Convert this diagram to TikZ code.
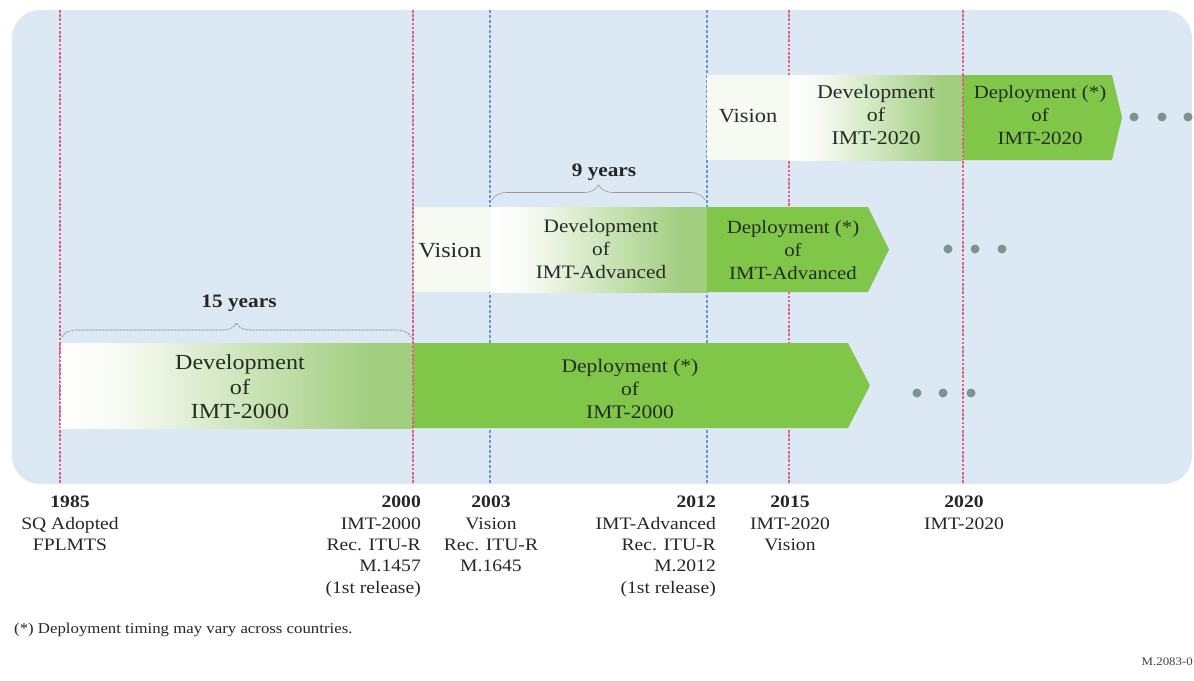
\documentclass[tikz,border=0pt]{standalone}
\usepackage{fontspec}
\setmainfont{Liberation Serif}[FakeStretch=1.12]
\usetikzlibrary{decorations.pathreplacing}
\definecolor{bgblue}{RGB}{221,232,245}
\definecolor{deploy}{RGB}{128,198,72}
\definecolor{devgreen}{RGB}{162,206,128}
\definecolor{devlight}{RGB}{247,250,242}
\definecolor{redline}{RGB}{226,96,128}
\definecolor{blueline}{RGB}{100,150,215}
\definecolor{dotcol}{RGB}{125,148,140}
\definecolor{txt}{RGB}{35,45,35}
\pgfdeclarehorizontalshading{devshade}{100bp}{color(0bp)=(white); color(25bp)=(white); color(34bp)=(devlight); color(69bp)=(devgreen); color(100bp)=(devgreen)}
\tikzset{
  redl/.style={draw=redline, line width=2.4pt, dash pattern=on 2.6pt off 1.6pt},
  bluel/.style={draw=blueline, line width=1.6pt, dash pattern=on 3pt off 2pt},
  devbox/.style={shading=devshade},
  visbox/.style={fill=devlight},
  depbox/.style={fill=deploy},
  boxtxt/.style={text=txt, align=center, inner sep=0pt},
  lbl/.style={text=black!85, inner sep=0pt, font=\fontsize{17.5}{21.3}\selectfont},
  yrs/.style={text=black!85, inner sep=0pt, font=\fontsize{19}{21}\selectfont\bfseries},
  bracel/.style={decorate, draw=black!55, line width=0.6pt},
  dotc/.style={fill=dotcol, draw=none},
}
\begin{document}
\begin{tikzpicture}[x=1pt,y=-1pt]
\useasboundingbox (0,0) rectangle (1194,680);
% background
\fill[bgblue, rounded corners=28pt] (12,10) rectangle (1192,484);
% time lines
\draw[redl] (60,10) -- (60,484);
\draw[redl] (413,10) -- (413,484);
\draw[bluel] (490,10) -- (490,484);
\draw[bluel] (707,10) -- (707,484);
\draw[redl] (789,10) -- (789,484);
\draw[redl] (963,10) -- (963,484);
% row 1
\path[devbox] (60,343) rectangle (413,428);
\path[depbox] (413,343) -- (848,343) -- (870,385.5) -- (848,428) -- (413,428) -- cycle;
% row 2
\path[visbox] (413,207) rectangle (490,292);
\path[devbox] (490,207) rectangle (707,292);
\path[depbox] (707,207) -- (868,207) -- (889,249.5) -- (868,292) -- (707,292) -- cycle;
% row 3
\path[visbox] (707,75) rectangle (790,160);
\path[devbox] (789,75) rectangle (963,160);
\path[depbox] (963,75) -- (1112,75) -- (1122,117.5) -- (1112,160) -- (963,160) -- cycle;
% redraw boundary lines
\draw[redl] (60,343) -- (60,428);
\draw[redl] (413,207) -- (413,428);
\draw[redl] (963,75) -- (963,160);
% box texts
\node[boxtxt, font=\fontsize{21.5}{24.5}\selectfont] (r1dev) at (240,387) {Development\\of\\IMT-2000};
\node[boxtxt, font=\fontsize{19.2}{23}\selectfont] (r1dep) at (630,389) {Deployment (*)\\of\\IMT-2000};
\node[boxtxt, font=\fontsize{21.5}{24}\selectfont] (r2vis) at (450,251) {Vision};
\node[boxtxt, font=\fontsize{19}{23}\selectfont] (r2dev) at (601,249) {Development\\of\\IMT-Advanced};
\node[boxtxt, font=\fontsize{18.6}{23}\selectfont] (r2dep) at (793,250) {Deployment (*)\\of\\IMT-Advanced};
\node[boxtxt, font=\fontsize{20}{23}\selectfont] (r3vis) at (748,116) {Vision};
\node[boxtxt, font=\fontsize{19.5}{23}\selectfont] (r3dev) at (876,115) {Development\\of\\IMT-2020};
\node[boxtxt, font=\fontsize{18.6}{23}\selectfont] (r3dep) at (1040,115) {Deployment (*)\\of\\IMT-2020};
% braces
\draw[bracel, dash pattern=on 2pt off 1pt, decoration={brace, amplitude=14pt}] (62,337) -- (411,337);
\node[yrs] (y15) at (239,303) {15 years};
\draw[bracel, draw=black!40, decoration={brace, amplitude=15pt}] (492,200) -- (705,200);
\node[yrs] (y9) at (604,172) {9 years};
% dots
\fill[dotc] (917,393) circle (4.5) (943,393) circle (4.5) (971,393) circle (4.5);
\fill[dotc] (948,249) circle (4.5) (975,249) circle (4.5) (1002,249) circle (4.5);
\fill[dotc] (1134,117) circle (4.5) (1162,117) circle (4.5) (1188,117) circle (4.5);
% bottom labels
\node[lbl, anchor=north, align=center] (l1985) at (70,496) {\textbf{1985}\\SQ Adopted\\FPLMTS};
\node[lbl, anchor=north east, align=right] (l2000) at (421,496) {\textbf{2000}\\IMT-2000\\Rec. ITU-R\\M.1457\\(1st release)};
\node[lbl, anchor=north, align=center] (l2003) at (491,496) {\textbf{2003}\\Vision\\Rec. ITU-R\\M.1645};
\node[lbl, anchor=north east, align=right] (l2012) at (716,496) {\textbf{2012}\\IMT-Advanced\\Rec. ITU-R\\M.2012\\(1st release)};
\node[lbl, anchor=north, align=center] (l2015) at (790,496) {\textbf{2015}\\IMT-2020\\Vision};
\node[lbl, anchor=north, align=center] (l2020) at (964,496) {\textbf{2020}\\IMT-2020};
% footnote
\node[text=black!85, inner sep=0pt, anchor=west, font=\fontsize{15}{17}\selectfont] (foot) at (14,630) {(*) Deployment timing may vary across countries.};
\node[text=black!75, inner sep=0pt, anchor=east, font=\fontsize{11.5}{13}\selectfont] (fig) at (1193,662) {M.2083-0};
\end{tikzpicture}
\end{document}
